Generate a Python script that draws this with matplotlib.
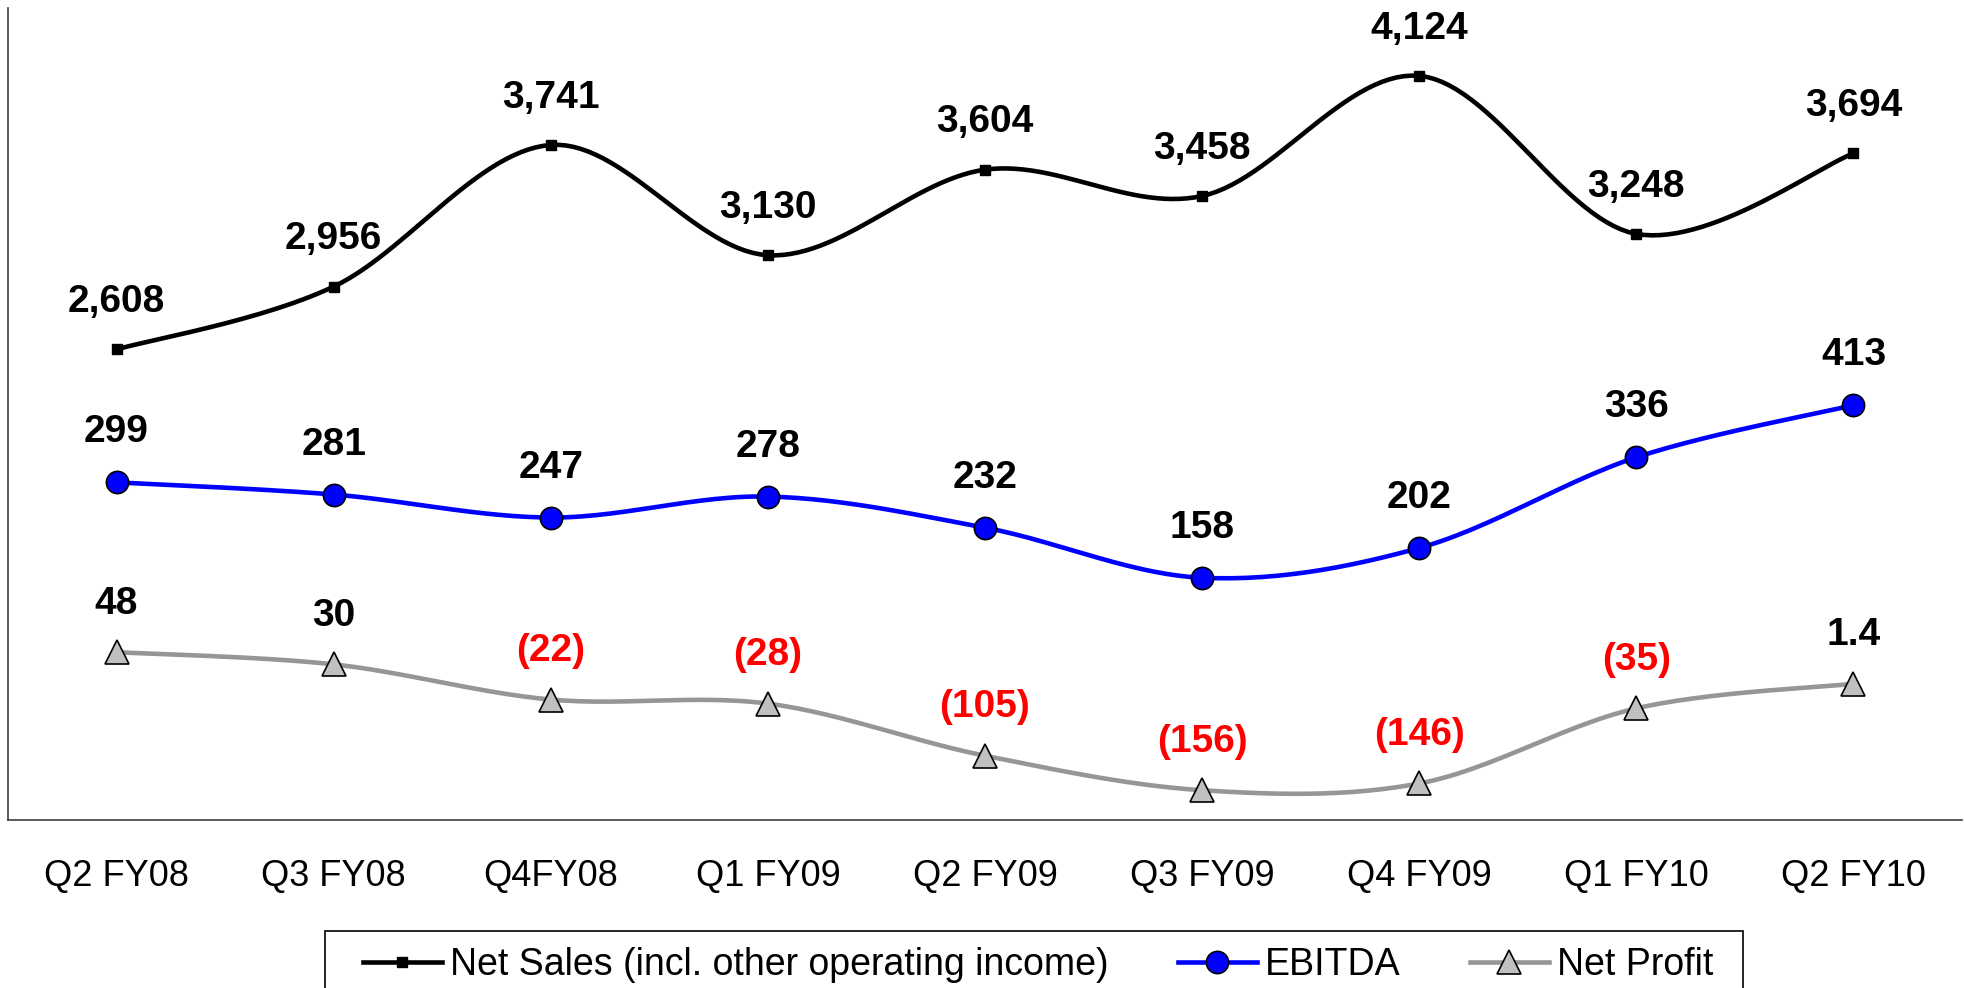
import numpy as np
import matplotlib
matplotlib.use("Agg")
import matplotlib.pyplot as plt
from matplotlib.lines import Line2D
from matplotlib.patches import Rectangle

categories = ["Q2 FY08", "Q3 FY08", "Q4FY08", "Q1 FY09", "Q2 FY09",
              "Q3 FY09", "Q4 FY09", "Q1 FY10", "Q2 FY10"]
net_sales = [2608, 2956, 3741, 3130, 3604, 3458, 4124, 3248, 3694]
ebitda = [299, 281, 247, 278, 232, 158, 202, 336, 413]
net_profit = [48, 30, -22, -28, -105, -156, -146, -35, 1.4]

net_sales_labels = ["2,608", "2,956", "3,741", "3,130", "3,604", "3,458", "4,124", "3,248", "3,694"]
ebitda_labels = ["299", "281", "247", "278", "232", "158", "202", "336", "413"]
net_profit_labels = ["48", "30", "(22)", "(28)", "(105)", "(156)", "(146)", "(35)", "1.4"]

plt.rcParams['font.family'] = ['Liberation Sans', 'DejaVu Sans']

W, H = 1964, 988
fig = plt.figure(figsize=(W / 100, H / 100), dpi=100)
ax = fig.add_axes([8 / W, 1 - 820 / H, (1962 - 8) / W, (820 - 8) / H])
ax2 = ax.twinx()
ax2.set_position(ax.get_position())

ax.set_ylim(0, 4500)
ax2.set_ylim(-200, 1000)
ax.set_xlim(-0.5, len(categories) - 0.5)


def smooth(xs, ys, n=30):
    # Excel-style smoothed line: cubic Bezier with control points from neighbours (Catmull-Rom)
    xs = np.asarray(xs, float)
    ys = np.asarray(ys, float)
    P = np.column_stack([xs, ys])
    out = [P[0]]
    for i in range(len(P) - 1):
        p0 = P[i - 1] if i > 0 else P[i]
        p1 = P[i]
        p2 = P[i + 1]
        p3 = P[i + 2] if i + 2 < len(P) else P[i + 1]
        c1 = p1 + (p2 - p0) / 6.0
        c2 = p2 - (p3 - p1) / 6.0
        t = np.linspace(0, 1, n)[1:, None]
        seg = ((1 - t) ** 3) * p1 + 3 * ((1 - t) ** 2) * t * c1 + 3 * (1 - t) * t ** 2 * c2 + t ** 3 * p2
        out.extend(seg)
    out = np.array(out)
    return out[:, 0], out[:, 1]


x = np.arange(len(categories))

for a in (ax, ax2):
    for s in a.spines.values():
        s.set_visible(False)
    a.set_yticks([])

ax.spines['left'].set_visible(True)
ax.spines['bottom'].set_visible(True)
ax.spines['left'].set_color('#404040')
ax.spines['bottom'].set_color('#404040')
ax.spines['left'].set_linewidth(1.2)
ax.spines['bottom'].set_linewidth(1.2)

ax.set_xticks(x)
ax.set_xticklabels(categories, fontsize=26)
ax.tick_params(axis='x', length=0, pad=28)

LW = 3.3

# Net Sales
sx, sy = smooth(x, net_sales)
ax.plot(sx, sy, color='black', lw=LW, zorder=3)
ax.plot(x, net_sales, ls='none', marker='s', ms=7.5, color='black', zorder=4)

# EBITDA
ex, ey = smooth(x, ebitda)
ax2.plot(ex, ey, color='#0000FF', lw=LW, zorder=3)
ax2.plot(x, ebitda, ls='none', marker='o', ms=16, mfc='#0000FF', mec='black', mew=1.2, zorder=4)

# Net Profit
px_, py_ = smooth(x, net_profit)
ax2.plot(px_, py_, color='#969696', lw=LW, zorder=2)
ax2.plot(x, net_profit, ls='none', marker='^', ms=17, mfc='#C0C0C0', mec='black', mew=1.2, zorder=4)

lab_kw = dict(textcoords='offset points', ha='center', va='center',
              fontsize=28, fontweight='bold')
for xi, v, t in zip(x, net_sales, net_sales_labels):
    ax.annotate(t, (xi, v), xytext=(0, 34), color='black', **lab_kw)
for xi, v, t in zip(x, ebitda, ebitda_labels):
    ax2.annotate(t, (xi, v), xytext=(0, 36), color='black', **lab_kw)
for xi, v, t in zip(x, net_profit, net_profit_labels):
    ax2.annotate(t, (xi, v), xytext=(0, 35), color='#FF0000' if v < 0 else 'black', **lab_kw)

handles = [
    Line2D([], [], color='black', lw=LW, marker='s', ms=7.5),
    Line2D([], [], color='#0000FF', lw=LW, marker='o', ms=16, mfc='#0000FF', mec='black', mew=1.2),
    Line2D([], [], color='#969696', lw=LW, marker='^', ms=17, mfc='#C0C0C0', mec='black', mew=1.2),
]
labels = ["Net Sales (incl. other operating income)", "EBITDA", "Net Profit"]
leg = fig.legend(handles, labels, loc='center left', bbox_to_anchor=(363 / W, 1 - 965 / H),
                 bbox_transform=fig.transFigure, ncol=3, fontsize=27, frameon=False,
                 borderaxespad=0, borderpad=0,
                 handlelength=2.1, handletextpad=0.22, columnspacing=1.85)

# legend box (extends past the bottom edge, as in the original)
fig.patches.append(Rectangle((325 / W, 1 - 1010 / H), (1743 - 325) / W, (1010 - 931) / H,
                             transform=fig.transFigure, fill=False, edgecolor='black',
                             linewidth=1.2, zorder=1))

fig.savefig("out.png", dpi=100)
